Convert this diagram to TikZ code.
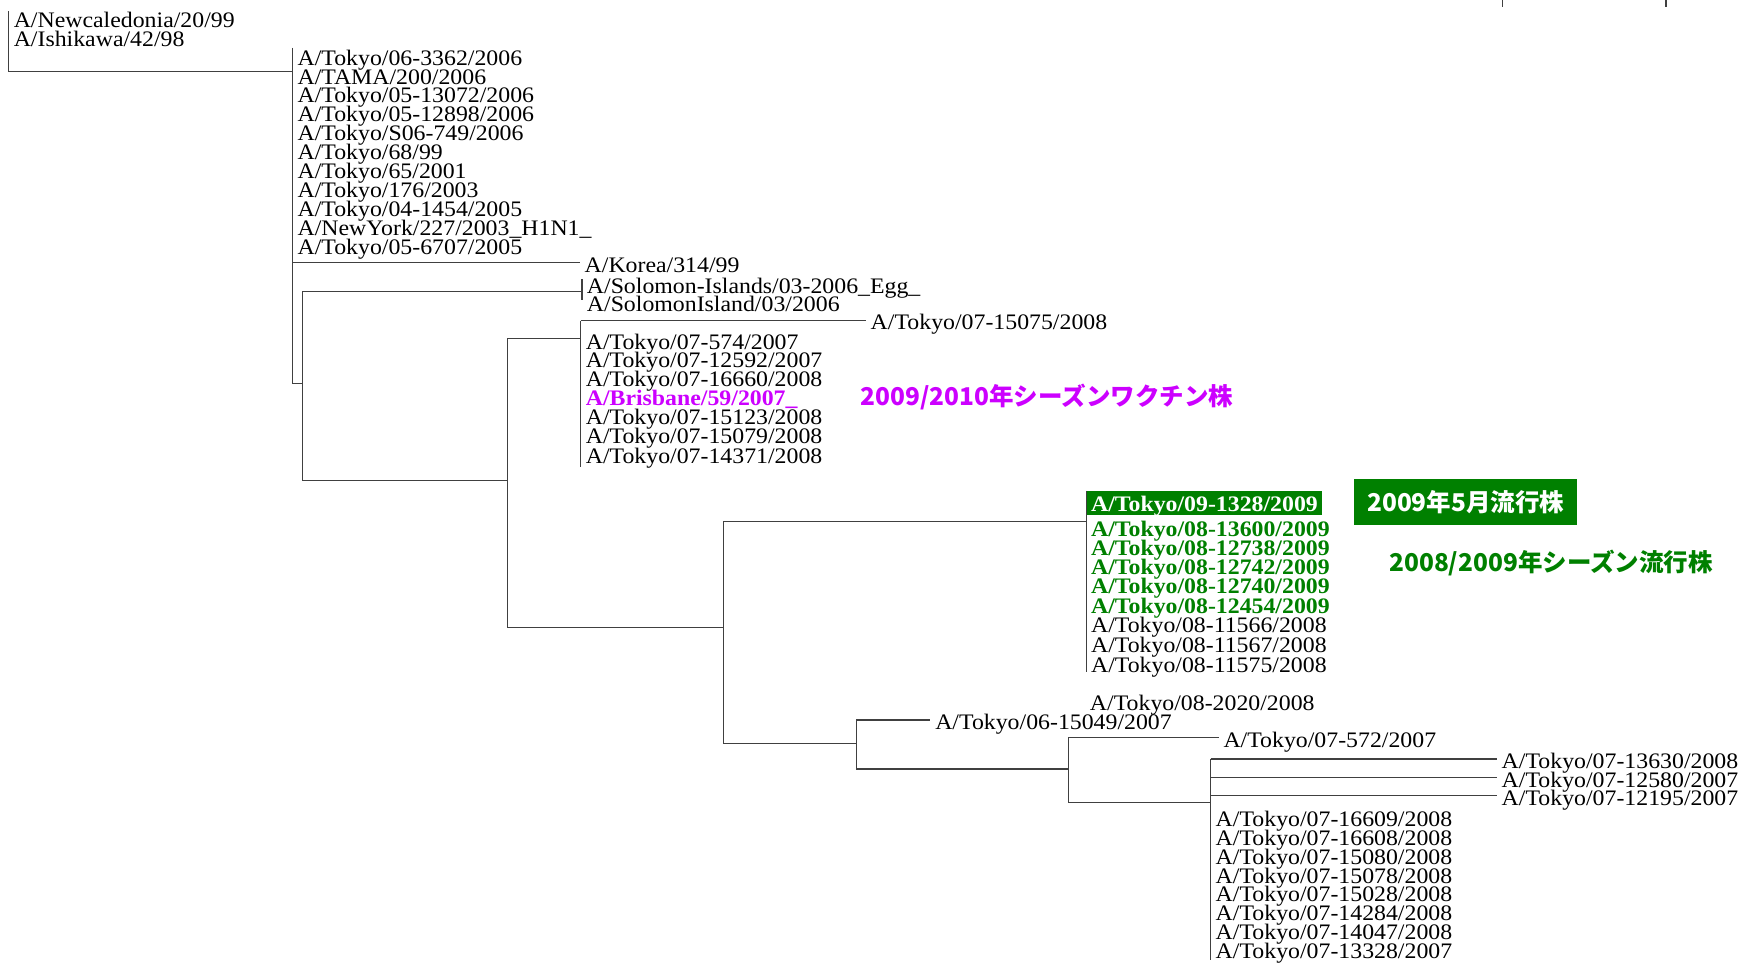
\documentclass[tikz,border=0pt]{standalone}
\usepackage{graphicx}
\usepackage{fontspec}
\setmainfont{Liberation Serif}
\newfontfamily\jpfont{Noto Sans CJK JP}
\usepackage{xcolor}
\usepackage{tikz}
\definecolor{vaccinepurple}{RGB}{204,0,255}
\definecolor{outbreakgreen}{RGB}{0,128,0}
\newcommand{\sq}[1]{\scalebox{1}[0.93]{#1}}

\begin{document}
\begin{tikzpicture}[x=0.5pt, y=-0.5pt,
  leaf/.style={anchor=west, inner xsep=2pt, inner ysep=0pt, text height=10pt, text depth=1.5pt, font=\fontsize{10.7}{10.7}\selectfont},
  boldleaf/.style={leaf, font=\fontsize{10.7}{10.7}\selectfont\bfseries},
  branch/.style={black!75, line width=0.5pt},
  note/.style={inner sep=0pt, font=\jpfont\bfseries\fontsize{11}{11}\selectfont}]

\useasboundingbox (0,0) rectangle (1568,865);

\draw[branch] (1350,0) -- (1350,6);
\draw[branch] (1497,0) -- (1497,6);

\node[leaf] (newcal) at (8,16) {\sq{A/Newcaledonia/20/99}};
\node[leaf] (ishikawa) at (8,33) {\sq{A/Ishikawa/42/98}};
\coordinate (r0) at (8,10);
\coordinate (r) at (8,64);
\coordinate (n1) at (263,64);
\draw[branch] (r0) -- (r) -- (n1);

\coordinate (n1top) at (263,43);
\coordinate (n1bot) at (263,345);
\draw[branch] (n1top) -- (n1bot);
\node[leaf] (t3362) at (263,50) {\sq{A/Tokyo/06-3362/2006}};
\node[leaf] (tama) at (263,67) {\sq{A/TAMA/200/2006}};
\node[leaf] (t13072) at (263,84) {\sq{A/Tokyo/05-13072/2006}};
\node[leaf] (t12898) at (263,101) {\sq{A/Tokyo/05-12898/2006}};
\node[leaf] (ts749) at (263,118) {\sq{A/Tokyo/S06-749/2006}};
\node[leaf] (t68) at (263,135) {\sq{A/Tokyo/68/99}};
\node[leaf] (t65) at (263,152) {\sq{A/Tokyo/65/2001}};
\node[leaf] (t176) at (263,169) {\sq{A/Tokyo/176/2003}};
\node[leaf] (t1454) at (263,186) {\sq{A/Tokyo/04-1454/2005}};
\node[leaf] (newyork) at (263,203) {\sq{A/NewYork/227/2003\_H1N1\_}};
\node[leaf] (t6707) at (263,220) {\sq{A/Tokyo/05-6707/2005}};
\node[leaf] (korea) at (521,236) {\sq{A/Korea/314/99}};
\draw[branch] (n1top) |- (korea);

\coordinate (n2) at (272,345);
\coordinate (s) at (523,262);
\coordinate (n3) at (456,432);
\draw[branch] (n1bot) -- (n2);
\draw[branch] (n2) |- (s);
\draw[branch] (n2) |- (n3);
\draw[branch] (523,251) -- (523,270);
\node[leaf] (solomon1) at (523,255) {\sq{A/Solomon-Islands/03-2006\_Egg\_}};
\node[leaf] (solomon2) at (523,271) {\sq{A/SolomonIsland/03/2006}};

\coordinate (n4) at (522,304);
\coordinate (n5) at (650,564);
\draw[branch] (n3) |- (n4);
\draw[branch] (n3) |- (n5);
\coordinate (n4top) at (522,288);
\coordinate (n4bot) at (522,420);
\draw[branch] (n4top) -- (n4bot);
\node[leaf] (t15075) at (778,288) {\sq{A/Tokyo/07-15075/2008}};
\draw[branch] (n4top) -- (t15075);
\node[leaf] (t574) at (522,306) {\sq{A/Tokyo/07-574/2007}};
\node[leaf] (t12592) at (522,322) {\sq{A/Tokyo/07-12592/2007}};
\node[leaf] (t16660) at (522,339) {\sq{A/Tokyo/07-16660/2008}};
\node[boldleaf, text=vaccinepurple] (brisbane) at (522,356) {\sq{A/Brisbane/59/2007\_}};
\node[leaf] (t15123) at (522,373) {\sq{A/Tokyo/07-15123/2008}};
\node[leaf] (t15079) at (522,390) {\sq{A/Tokyo/07-15079/2008}};
\node[leaf] (t14371) at (522,408) {\sq{A/Tokyo/07-14371/2008}};
\node[note, text=vaccinepurple, anchor=west] (vaccine) at (773,357) {2009/2010年シーズンワクチン株};

\coordinate (n6) at (976,469);
\coordinate (n7) at (770,668);
\draw[branch] (n5) |- (n6);
\draw[branch] (n5) |- (n7);
\draw[branch] (976,441) -- (976,604);
\node[boldleaf, fill=outbreakgreen, text=white, inner ysep=0pt, text height=9.5pt, text depth=1.5pt] (t1328) at (976,452) {\sq{A/Tokyo/09-1328/2009}};
\node[boldleaf, text=outbreakgreen] (t13600) at (976,474) {\sq{A/Tokyo/08-13600/2009}};
\node[boldleaf, text=outbreakgreen] (t12738) at (976,491) {\sq{A/Tokyo/08-12738/2009}};
\node[boldleaf, text=outbreakgreen] (t12742) at (976,508) {\sq{A/Tokyo/08-12742/2009}};
\node[boldleaf, text=outbreakgreen] (t12740) at (976,525) {\sq{A/Tokyo/08-12740/2009}};
\node[boldleaf, text=outbreakgreen] (t12454) at (976,543) {\sq{A/Tokyo/08-12454/2009}};
\node[leaf] (t11566) at (976,560) {\sq{A/Tokyo/08-11566/2008}};
\node[leaf] (t11567) at (976,578) {\sq{A/Tokyo/08-11567/2008}};
\node[leaf] (t11575) at (976,596) {\sq{A/Tokyo/08-11575/2008}};
\node[note, fill=outbreakgreen, text=white, minimum width=100pt, minimum height=20.5pt] (may) at (1317,451) {2009年5月流行株};
\node[note, text=outbreakgreen, anchor=west] (season) at (1248,506) {2008/2009年シーズン流行株};
\node[leaf] (t2020) at (975,630) {\sq{A/Tokyo/08-2020/2008}};

\coordinate (n8) at (960,691);
\node[leaf] (t15049) at (836,647) {\sq{A/Tokyo/06-15049/2007}};
\draw[branch] (n7) |- (t15049);
\draw[branch] (n7) |- (n8);
\node[leaf] (t572) at (1095,663) {\sq{A/Tokyo/07-572/2007}};
\coordinate (n9) at (1088,721);
\draw[branch] (n8) |- (t572);
\draw[branch] (n8) |- (n9);

\coordinate (n9top) at (1088,682);
\coordinate (n9bot) at (1088,863);
\draw[branch] (n9top) -- (n9bot);
\node[leaf] (t13630) at (1345,682) {\sq{A/Tokyo/07-13630/2008}};
\node[leaf] (t12580) at (1345,699) {\sq{A/Tokyo/07-12580/2007}};
\node[leaf] (t12195) at (1345,715) {\sq{A/Tokyo/07-12195/2007}};
\draw[branch] (n9top) -- (t13630);
\draw[branch] (n9top) |- (t12580);
\draw[branch] (n9top) |- (t12195);
\node[leaf] (t16609) at (1088,734) {\sq{A/Tokyo/07-16609/2008}};
\node[leaf] (t16608) at (1088,751) {\sq{A/Tokyo/07-16608/2008}};
\node[leaf] (t15080) at (1088,768) {\sq{A/Tokyo/07-15080/2008}};
\node[leaf] (t15078) at (1088,785) {\sq{A/Tokyo/07-15078/2008}};
\node[leaf] (t15028) at (1088,802) {\sq{A/Tokyo/07-15028/2008}};
\node[leaf] (t14284) at (1088,819) {\sq{A/Tokyo/07-14284/2008}};
\node[leaf] (t14047) at (1088,836) {\sq{A/Tokyo/07-14047/2008}};
\node[leaf] (t13328) at (1088,853) {\sq{A/Tokyo/07-13328/2007}};

\end{tikzpicture}
\end{document}
